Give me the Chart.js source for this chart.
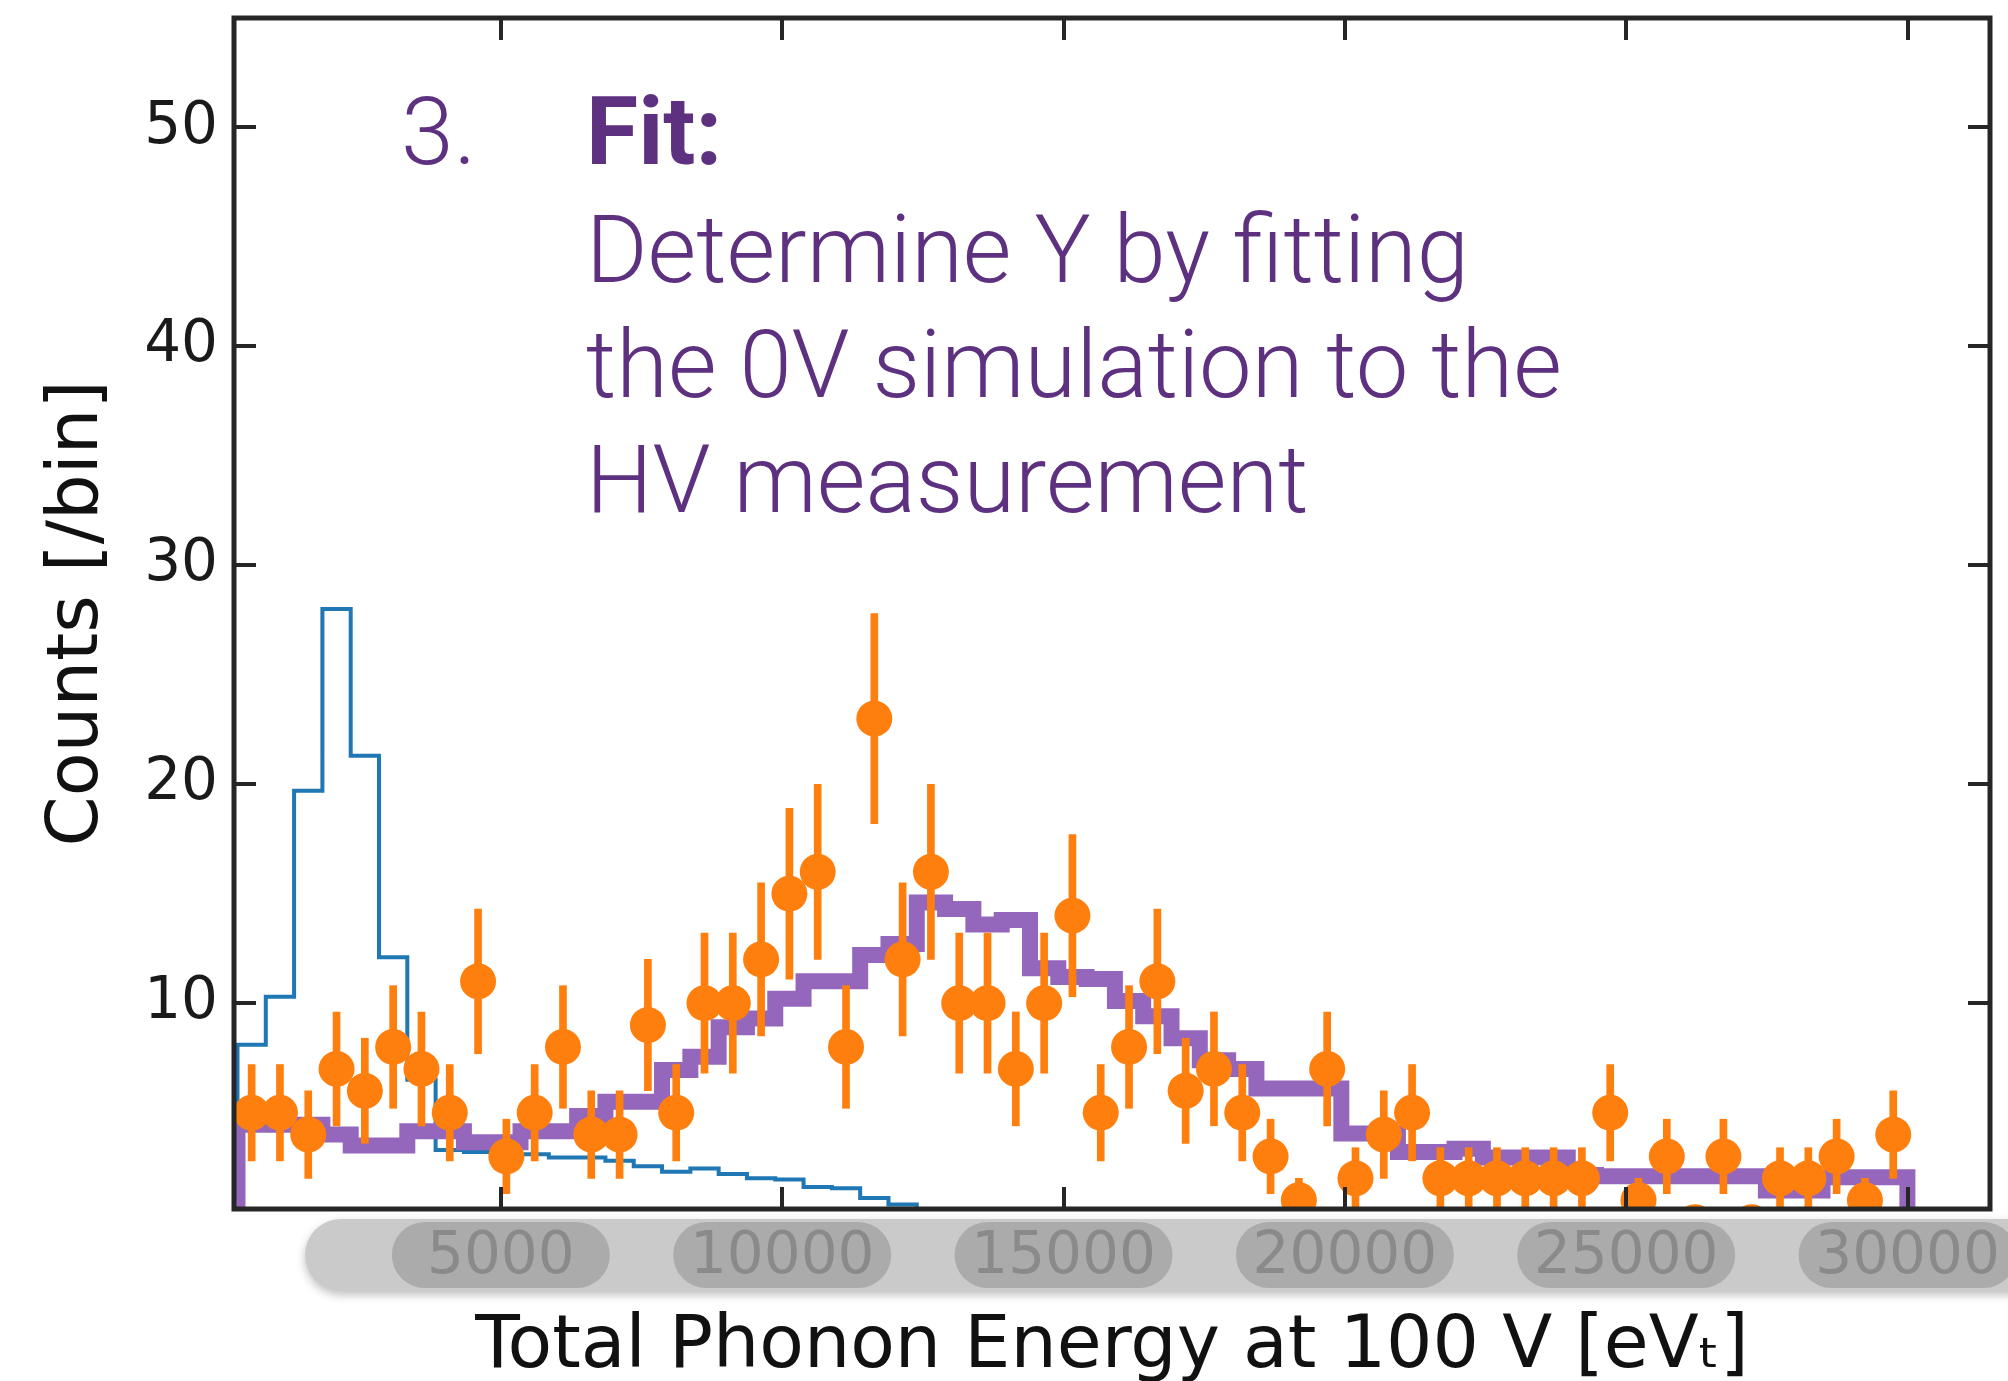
<!DOCTYPE html>
<html>
<head>
<meta charset="utf-8">
<title>Fit: 0V simulation vs HV measurement</title>
<script src="https://cdn.jsdelivr.net/npm/chart.js"></script>
<style>
  html, body { margin: 0; padding: 0; background: #fff; }
  #wrap { width: 2008px; height: 1381px; }
</style>
</head>
<body>
<div id="wrap"><canvas id="fitChart" width="2008" height="1381"></canvas></div>
<script>
// histogram bin edges, total phonon energy [eV_t]
const binEdges = [320, 823, 1326, 1829, 2332, 2835, 3338, 3841, 4344, 4847,
  5350, 5853, 6356, 6859, 7362, 7865, 8368, 8871, 9374, 9877,
  10380, 10883, 11386, 11889, 12392, 12895, 13398, 13901, 14404, 14907,
  15410, 15913, 16416, 16919, 17422, 17925, 18428, 18931, 19434, 19937,
  20440, 20943, 21446, 21949, 22452, 22955, 23458, 23961, 24464, 24967,
  25470, 25973, 26476, 26979, 27482, 27985, 28488, 28991, 29494, 29997];

// HV measurement (orange points) and their error bars
const hvCounts = [5, 5, 4, 7, 6, 8, 7, 5, 11, 3,
  5, 8, 4, 4, 9, 5, 10, 10, 12, 15,
  16, 8, 23, 12, 16, 10, 10, 7, 10, 14,
  5, 8, 11, 6, 7, 5, 3, 1, 7, 2,
  4, 5, 2, 2, 2, 2, 2, 2, 5, 1,
  3, 0, 3, 0, 2, 2, 3, 1, 4];
const hvErrors = [2.2, 2.2, 2.0, 2.6, 2.4, 2.8, 2.6, 2.2, 3.3, 1.7,
  2.2, 2.8, 2.0, 2.0, 3.0, 2.2, 3.2, 3.2, 3.5, 3.9,
  4.0, 2.8, 4.8, 3.5, 4.0, 3.2, 3.2, 2.6, 3.2, 3.7,
  2.2, 2.8, 3.3, 2.4, 2.6, 2.2, 1.7, 1.0, 2.6, 1.4,
  2.0, 2.2, 1.4, 1.4, 1.4, 1.4, 1.4, 1.4, 2.2, 1.0,
  1.7, 0, 1.7, 0, 1.4, 1.4, 1.7, 1.0, 2.0];

// fitted 0V simulation (purple)
const fitCounts = [4.45, 4.45, 4.45, 4.0, 3.5, 3.5, 4.15, 4.15, 3.65, 3.65,
  4.15, 4.15, 4.85, 5.5, 5.5, 6.95, 7.55, 8.9, 9.3, 10.2,
  11.0, 11.0, 12.2, 12.7, 14.6, 14.3, 13.6, 13.8, 11.6, 11.2,
  11.1, 10.1, 9.4, 8.4, 7.4, 7.0, 6.1, 6.1, 6.1, 4.05,
  4.05, 3.2, 3.2, 3.35, 2.95, 2.95, 2.95, 2.15, 2.1, 2.1,
  2.1, 2.1, 2.1, 2.1, 1.45, 1.45, 2.05, 2.05, 2.05];

// 0V measurement (blue), first bins only
const zeroVCounts = [8.1, 10.3, 19.7, 28.0, 21.3, 12.1, 6.5, 3.3, 3.2, 3.1,
  3.1, 2.95, 2.95, 2.8, 2.55, 2.3, 2.45, 2.2, 2.0, 1.95,
  1.6, 1.55, 1.1, 0.8];

const xTicks = [5000, 10000, 15000, 20000, 25000, 30000];
const yTicks = [10, 20, 30, 40, 50];

const noteNumber = '3.';
const noteHead = 'Fit:';
const noteLines = ['Determine Y by fitting', 'the 0V simulation to the', 'HV measurement'];

const ORANGE = '#ff7f0e';
const PURPLE = '#9467bd';
const BLUE = '#1f77b4';
const NOTE = '#5e3180';
const AXIS = '#262626';

function stepPoints(vals) {
  const pts = [{x: binEdges[0], y: 0}];
  vals.forEach((v, i) => pts.push({x: binEdges[i], y: v}));
  const end = binEdges[vals.length];
  pts.push({x: end, y: vals[vals.length - 1]});
  pts.push({x: end, y: 0});
  return pts;
}

const centers = hvCounts.map((c, i) => (binEdges[i] + binEdges[i + 1]) / 2);

const pointData = hvCounts.map((c, i) => ({x: centers[i], y: c}));
const errData = hvCounts
  .map((c, i) => ({x: centers[i], y: [c - hvErrors[i], c + hvErrors[i]]}))
  .filter((d, i) => hvErrors[i] > 0);

// grey label strip under the x axis
const labelBand = {
  id: 'labelBand',
  beforeDraw(chart) {
    const {ctx, chartArea} = chart;
    const xs = chart.scales.x;
    const top = chartArea.bottom + 10;
    ctx.save();
    ctx.shadowColor = 'rgba(0,0,0,0.25)';
    ctx.shadowBlur = 10;
    ctx.shadowOffsetY = 4;
    ctx.fillStyle = '#cacaca';
    ctx.beginPath();
    ctx.roundRect(305, top, 1760, 72, 36);
    ctx.fill();
    ctx.shadowColor = 'transparent';
    ctx.fillStyle = '#ababab';
    xTicks.forEach(v => {
      const px = xs.getPixelForValue(v);
      ctx.beginPath();
      ctx.roundRect(px - 109, top + 3, 218, 66, 33);
      ctx.fill();
    });
    ctx.restore();
  }
};

// box with inward tick marks on all four sides
const frame = {
  id: 'frame',
  afterDatasetsDraw(chart) {
    const {ctx, chartArea: a} = chart;
    const xs = chart.scales.x, ys = chart.scales.y;
    const len = 22;
    ctx.save();
    ctx.strokeStyle = AXIS;
    ctx.lineWidth = 4;
    ctx.beginPath();
    xTicks.forEach(v => {
      const px = Math.round(xs.getPixelForValue(v));
      ctx.moveTo(px, a.bottom); ctx.lineTo(px, a.bottom - len);
      ctx.moveTo(px, a.top); ctx.lineTo(px, a.top + len);
    });
    yTicks.forEach(v => {
      const py = Math.round(ys.getPixelForValue(v));
      ctx.moveTo(a.left, py); ctx.lineTo(a.left + len, py);
      ctx.moveTo(a.right, py); ctx.lineTo(a.right - len, py);
    });
    ctx.stroke();
    ctx.lineWidth = 5;
    ctx.strokeRect(a.left, a.top, a.right - a.left, a.bottom - a.top);
    ctx.restore();
  }
};

// purple annotation text
const note = {
  id: 'note',
  afterDraw(chart) {
    const {ctx} = chart;
    ctx.save();
    ctx.fillStyle = NOTE;
    ctx.textBaseline = 'alphabetic';
    ctx.font = '300 95px Roboto, "Open Sans", sans-serif';
    ctx.fillText(noteNumber, 401, 164);
    ctx.font = 'bold 95px Roboto, "Open Sans", sans-serif';
    ctx.fillText(noteHead, 586, 164);
    ctx.font = '300 94px Roboto, "Open Sans", sans-serif';
    noteLines.forEach((t, i) => ctx.fillText(t, 586, 282 + i * 115));
    ctx.restore();
  }
};

Chart.defaults.font.family = '"DejaVu Sans", sans-serif';

new Chart(document.getElementById('fitChart'), {
  type: 'scatter',
  data: {
    datasets: [
      {
        type: 'scatter',
        label: 'HV data',
        data: pointData,
        pointRadius: 18,
        pointHoverRadius: 18,
        pointBackgroundColor: ORANGE,
        pointBorderWidth: 0,
        clip: 0,
        order: 0
      },
      {
        type: 'bar',
        label: 'HV errors',
        data: errData,
        backgroundColor: ORANGE,
        borderWidth: 0,
        barThickness: 7,
        grouped: false,
        clip: 0,
        order: 1
      },
      {
        type: 'line',
        label: 'Fitted 0V simulation',
        data: stepPoints(fitCounts),
        stepped: true,
        borderColor: PURPLE,
        borderWidth: 16,
        borderJoinStyle: 'miter',
        pointRadius: 0,
        fill: false,
        clip: 0,
        order: 2
      },
      {
        type: 'line',
        label: '0V',
        data: stepPoints(zeroVCounts),
        stepped: true,
        borderColor: BLUE,
        borderWidth: 4,
        borderJoinStyle: 'miter',
        pointRadius: 0,
        fill: false,
        clip: 0,
        order: 3
      }
    ]
  },
  options: {
    responsive: false,
    animation: false,
    devicePixelRatio: 1,
    layout: { padding: { left: 0, top: 18, right: 17, bottom: 0 } },
    plugins: {
      legend: { display: false },
      tooltip: { enabled: false }
    },
    scales: {
      x: {
        type: 'linear',
        min: 258,
        max: 31465,
        offset: false,
        grid: { display: false, drawTicks: false },
        border: { display: false },
        afterBuildTicks: s => { s.ticks = xTicks.map(v => ({value: v})); },
        afterFit: s => { s.height = 172; s.paddingLeft = 0; s.paddingRight = 0; },
        ticks: {
          autoSkip: false,
          maxRotation: 0,
          padding: 14,
          color: '#8a8a8a',
          font: { size: 58 },
          callback: v => String(v)
        },
        title: {
          display: true,
          text: 'Total Phonon Energy at 100 V [eVₜ]',
          color: '#111',
          font: { size: 73, lineHeight: 0.85 },
          padding: { top: 0, bottom: 2 }
        }
      },
      y: {
        type: 'linear',
        min: 0.6,
        max: 55,
        grid: { display: false, drawTicks: false },
        border: { display: false },
        afterBuildTicks: s => { s.ticks = yTicks.map(v => ({value: v})); },
        afterFit: s => { s.width = 234; s.paddingTop = 0; s.paddingBottom = 0; },
        ticks: {
          padding: 16,
          color: '#1a1a1a',
          font: { size: 58 }
        },
        title: {
          display: true,
          text: 'Counts [/bin]',
          color: '#111',
          font: { size: 72, lineHeight: 1 },
          padding: { top: 42, bottom: 0 }
        }
      }
    }
  },
  plugins: [labelBand, frame, note]
});
</script>
</body>
</html>
